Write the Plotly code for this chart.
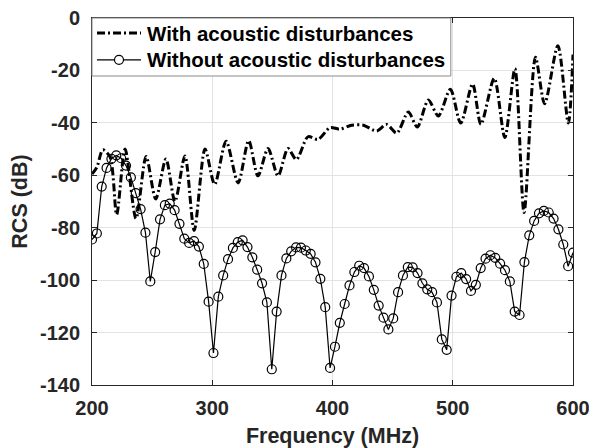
import numpy as np
import plotly.graph_objects as go

# Frequency grid of the "without" series (100 samples, 200-600 MHz)
freq_without = np.linspace(200, 600, 100)
rcs_without = [
    -84.5, -82.2, -64.3, -57.2, -53.7, -52.4, -53.5, -56.3, -60.8, -66.8,
    -72.9, -81.9, -100.5, -89.3, -76.8, -71.4, -70.8, -73.3, -78.5, -84.2,
    -85.8, -85.1, -87.2, -93.8, -108.2, -127.8, -106.3, -98.2, -92.0, -87.7,
    -85.5, -84.8, -87.4, -91.3, -96.0, -101.2, -108.5, -134.0, -112.0, -98.2,
    -91.7, -89.0, -87.5, -87.6, -88.7, -90.0, -93.2, -99.5, -110.3, -133.5,
    -125.4, -116.3, -109.1, -102.0, -96.9, -94.5, -95.4, -98.6, -103.7, -109.7,
    -114.3, -118.8, -114.6, -104.6, -98.2, -95.0, -95.1, -97.3, -101.2, -103.5,
    -104.6, -108.5, -122.6, -126.6, -105.9, -98.7, -97.3, -99.6, -104.1, -101.8,
    -95.4, -91.8, -90.5, -91.5, -93.7, -96.2, -100.5, -112.0, -113.3, -93.1,
    -82.9, -77.4, -74.5, -73.6, -74.2, -76.5, -80.6, -86.4, -94.7, -89.5,
]

# "With" series: read at its peaks and dips
freq_with = [
    200, 204, 209, 215, 220.5, 227.5, 236.6, 245, 253, 261.5,
    269, 277.3, 285, 294, 302, 311.5, 321.5, 330.3, 338, 346.4,
    354.7, 363, 370, 379.6, 388, 398, 406, 416, 425.6, 436.7,
    445, 453.4, 463, 470.5, 479.7, 488, 498, 506.6, 516.5, 523.4,
    534.5, 543.3, 551.7, 559.3, 568.8, 576.4, 587.4, 596.1, 600,
]
rcs_with = [
    -59.5, -57.0, -50.3, -53.0, -75.0, -50.0, -76.5, -52.8, -69.0, -53.8,
    -70.0, -52.6, -81.0, -50.0, -63.5, -47.0, -62.9, -46.8, -60.2, -49.8,
    -60.2, -49.8, -54.0, -45.3, -46.3, -41.8, -42.4, -40.9, -40.9, -43.1,
    -40.6, -43.9, -35.9, -41.6, -31.3, -37.4, -27.2, -40.1, -25.2, -40.6,
    -23.0, -45.6, -19.3, -74.2, -15.0, -32.7, -10.6, -40.1, -13.9,
]

series_names = ["With acoustic disturbances", "Without acoustic disturbances"]
x_ticks = [200, 300, 400, 500, 600]
y_ticks = [0, -20, -40, -60, -80, -100, -120, -140]

FONT = "Liberation Sans, Arial, sans-serif"
AX = "#262626"
DASHDOT = "8px,3px,2px,3px"

fig = go.Figure()
fig.add_trace(go.Scatter(
    x=freq_with, y=rcs_with, mode="lines", name=series_names[0], showlegend=False,
    line=dict(color="black", width=3, dash=DASHDOT, shape="spline", smoothing=0.8),
))
fig.add_trace(go.Scatter(
    x=freq_without, y=rcs_without, mode="lines+markers", name=series_names[1], showlegend=False,
    line=dict(color="black", width=1.2),
    marker=dict(symbol="circle-open", size=9, color="black", line=dict(width=1.2, color="black")),
))

axis_common = dict(
    showline=True, linecolor=AX, linewidth=1, mirror="ticks",
    ticks="inside", ticklen=5, tickcolor=AX,
    showgrid=True, gridcolor="#e3e3e3", gridwidth=1,
    zeroline=False, automargin=False, ticklabeloverflow="allow",
    tickfont=dict(family=FONT, size=20, color=AX, weight="bold"),
)

fig.update_xaxes(
    range=[200, 600], tickvals=x_ticks, ticktext=[str(v) for v in x_ticks],
    title=dict(text="<b>Frequency (MHz)</b>", font=dict(family=FONT, size=21.5, color=AX), standoff=9),
    ticklabelstandoff=5,
    **axis_common,
)
fig.update_yaxes(
    range=[-140, 0], tickvals=y_ticks, ticktext=[str(v) for v in y_ticks],
    title=dict(text="<b>RCS (dB)</b>", font=dict(family=FONT, size=21.5, color=AX), standoff=10),
    ticklabelstandoff=7,
    **axis_common,
)

# Legend box drawn in paper coordinates (inside the top-left corner of the axes)
leg_x1, leg_y0 = 0.746, 0.842
row_y = [0.959, 0.886]
key_x0, key_x1, key_xc, text_x = 0.0104, 0.1019, 0.0561, 0.110

shapes = [
    dict(type="rect", xref="paper", yref="paper", x0=0, x1=leg_x1, y0=leg_y0, y1=1,
         fillcolor="white", line=dict(color="#8a8a8a", width=1), layer="above"),
    dict(type="line", xref="paper", yref="paper", x0=key_x0, x1=key_x1, y0=row_y[0], y1=row_y[0],
         line=dict(color="black", width=3, dash=DASHDOT), layer="above"),
    dict(type="line", xref="paper", yref="paper", x0=key_x0, x1=key_x1, y0=row_y[1], y1=row_y[1],
         line=dict(color="black", width=1.2), layer="above"),
    dict(type="circle", xref="paper", yref="paper", xsizemode="pixel", ysizemode="pixel",
         xanchor=key_xc, yanchor=row_y[1], x0=-4.5, x1=4.5, y0=-4.5, y1=4.5,
         fillcolor="white", line=dict(color="black", width=1.2), layer="above"),
]
annotations = [
    dict(xref="paper", yref="paper", x=text_x, y=ry, xanchor="left", yanchor="middle",
         text="<b>%s</b>" % name, showarrow=False,
         font=dict(family=FONT, size=20.5, color="black"))
    for name, ry in zip(series_names, row_y)
]

fig.update_layout(
    width=589, height=440,
    margin=dict(l=84, r=24, t=10, b=63),
    paper_bgcolor="white", plot_bgcolor="white",
    font=dict(family=FONT, color="black"),
    showlegend=False,
    shapes=shapes, annotations=annotations,
)

fig.write_html("out.html")
